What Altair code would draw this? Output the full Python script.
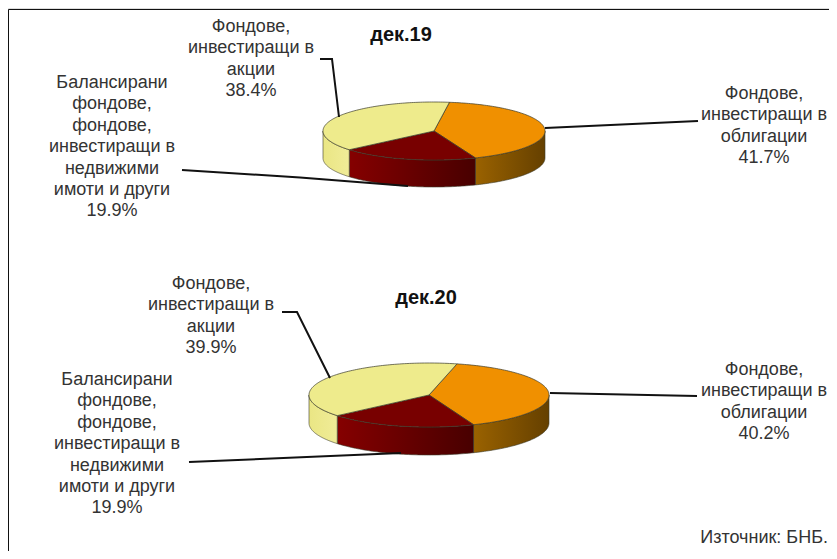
import numpy as np
import pandas as pd
import altair as alt

# --- chart values ---
periods = ["дек.19", "дек.20"]
bonds = [41.7, 40.2]
other = [19.9, 19.9]
equity = [38.4, 39.9]
bond_label = ["Фондове,", "инвестиращи в", "облигации"]
equity_label = ["Фондове,", "инвестиращи в", "акции"]
other_label = ["Балансирани", "фондове,", "фондове,", "инвестиращи в", "недвижими", "имоти и други"]
source = "Източник: БНБ."

# --- layout (page pixels of the picture) ---
W, H = 821, 543
X = alt.Scale(domain=[8, 8 + W], range=[0, W], nice=False, zero=False)
Y = alt.Scale(domain=[8, 8 + H], range=[0, H], nice=False, zero=False)
pies = [
    dict(cx=434, cy=131, rx=111, ry=29, depth=27, start=8.0),
    dict(cx=429, cy=395, rx=120, ry=32, depth=28, start=13.5),
]
title_pos = [(401, 35), (426, 298)]
bond_pos = [(764, 94), (764, 370)]
equity_pos = [(251, 27), (211, 284)]
other_pos = [(112, 83), (117, 380)]
LH = 21.4
leaders = [
    [[(320, 59), (332, 59), (339, 117)], [(545, 128), (698, 121)], [(182, 170), (300, 177.5), (408, 186)]],
    [[(282, 312), (297, 312), (330, 378)], [(550, 393), (697, 396)], [(189, 462), (401, 453)]],
]
TOP = {"bond": "#F09000", "other": "#780000", "equity": "#EEEB8C"}
WALL = {
    "bond": ("#9A6200", "#654000"),
    "other": ("#850000", "#480000"),
    "equity": ("#EAE684", "#F0EC98"),
}
EDGE = "#3a3a2a"
FONT = "Liberation Sans"
layers = []


def enc(df):
    return alt.Chart(df).encode(
        x=alt.X("x:Q", scale=X, axis=None),
        y=alt.Y("y:Q", scale=Y, axis=None),
    )


def ellipse(p, deg, dy=0.0):
    t = np.radians(deg)
    return p["cx"] + p["rx"] * np.sin(t), p["cy"] - p["ry"] * np.cos(t) + dy


for i, p in enumerate(pies):
    a0 = p["start"]
    a1 = a0 + bonds[i] * 3.6
    a2 = a1 + other[i] * 3.6
    a3 = a0 + 360
    spans = [("bond", a0, a1), ("other", a1, a2), ("equity", a2, a3)]
    for key, s, e in spans:
        s2, e2 = max(s, 90), min(e, 270)
        if e2 <= s2:
            continue
        deg = np.linspace(s2, e2, 60)
        xs, ys = ellipse(p, deg)
        df = pd.DataFrame({"x": xs, "y": ys, "y2": ys + p["depth"]})
        c0, c1 = WALL[key]
        layers.append(
            enc(df).mark_area(
                stroke=EDGE, strokeWidth=0.6,
                fill=alt.LinearGradient(
                    gradient="linear", x1=0, x2=1, y1=0, y2=0,
                    stops=[alt.GradientStop(color=c0, offset=0), alt.GradientStop(color=c1, offset=1)],
                ),
            ).encode(y2="y2:Q")
        )
    for key, s, e in spans:
        deg = np.linspace(s, e, 120)
        xs, ys = ellipse(p, deg)
        xs = np.concatenate([[p["cx"]], xs, [p["cx"]]])
        ys = np.concatenate([[p["cy"]], ys, [p["cy"]]])
        df = pd.DataFrame({"x": xs, "y": ys, "o": np.arange(len(xs))})
        layers.append(
            enc(df).mark_line(fill=TOP[key], stroke=EDGE, strokeWidth=0.7).encode(order="o:Q")
        )
    for j, pts in enumerate(leaders[i]):
        df = pd.DataFrame({"x": [q[0] for q in pts], "y": [q[1] for q in pts], "o": range(len(pts))})
        layers.append(enc(df).mark_line(color="#111111", strokeWidth=2).encode(order="o:Q"))

rows = []
for i in range(2):
    for lines, val, pos in [
        (bond_label, bonds[i], bond_pos[i]),
        (equity_label, equity[i], equity_pos[i]),
        (other_label, other[i], other_pos[i]),
    ]:
        for k, t in enumerate(lines + [f"{val:.1f}%"]):
            rows.append({"x": pos[0], "y": pos[1] + k * LH, "t": t})
layers.append(
    enc(pd.DataFrame(rows)).mark_text(font=FONT, fontSize=18, color="#333333", align="center", baseline="middle").encode(text="t:N")
)
layers.append(
    enc(pd.DataFrame({"x": [p[0] for p in title_pos], "y": [p[1] for p in title_pos], "t": periods}))
    .mark_text(font=FONT, fontSize=20, fontWeight="bold", color="#111111", align="center", baseline="middle")
    .encode(text="t:N")
)
layers.append(
    enc(pd.DataFrame({"x": [828], "y": [538], "t": [source]}))
    .mark_text(font=FONT, fontSize=18, color="#333333", align="right", baseline="middle")
    .encode(text="t:N")
)
layers.append(enc(pd.DataFrame({"x": [8.5, 8.5, 829], "y": [551, 9.5, 9.5], "o": [0, 1, 2]})).mark_line(color="#111111", strokeWidth=1).encode(order="o:Q"))

chart = (
    alt.layer(*layers)
    .properties(width=W, height=H, padding=0, autosize=alt.AutoSizeParams(type="none"))
    .configure_view(stroke=None)
    .configure(background="white")
)
chart.save("out.html", embed_options={"renderer": "svg", "actions": False})
